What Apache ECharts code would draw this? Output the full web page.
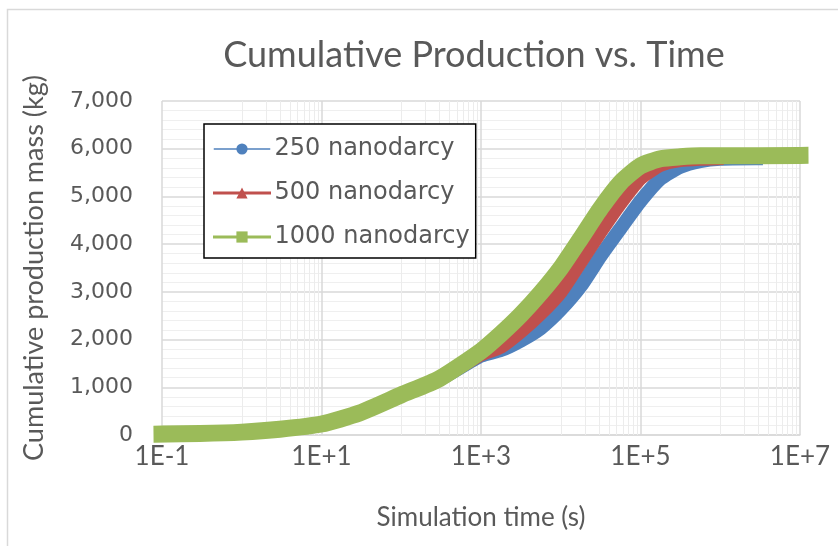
<!DOCTYPE html>
<html><head><meta charset="utf-8">
<script src="https://cdn.jsdelivr.net/npm/echarts@6/dist/echarts.min.js"></script>
<style>html,body{margin:0;padding:0;background:#fff}#c{width:838px;height:546px}</style>
</head><body><div id="c"></div>
<script>
const seriesNames = ['250 nanodarcy', '500 nanodarcy', '1000 nanodarcy'];
const time250 = [0.1, 0.3, 1, 3, 10, 30, 100, 300, 1000, 1780, 3160, 5620, 1e4, 1.78e4, 3.16e4, 5.62e4, 1e5, 1.78e5, 3.16e5, 5.62e5, 1e6, 2.8e6];
const mass250 = [20, 30, 60, 120, 230, 460, 840, 1160, 1660, 1780, 1980, 2240, 2630, 3120, 3750, 4330, 4900, 5370, 5620, 5740, 5790, 5800];
const time500 = [0.1, 0.3, 1, 3, 10, 30, 100, 300, 1000, 1780, 3160, 5620, 1e4, 1.78e4, 3.16e4, 5.62e4, 1e5, 1.78e5, 3.16e5, 5.62e5, 9e5];
const mass500 = [20, 30, 60, 120, 230, 460, 840, 1170, 1690, 1850, 2170, 2550, 3000, 3630, 4260, 4860, 5380, 5660, 5760, 5790, 5800];
const time1000 = [0.1, 0.3, 1, 3, 10, 30, 100, 300, 1000, 1780, 3160, 5620, 1e4, 1.78e4, 3.16e4, 5.62e4, 1e5, 1.78e5, 3.16e5, 5.62e5, 1e6, 1e7];
const mass1000 = [20, 30, 60, 120, 230, 460, 840, 1180, 1760, 2120, 2520, 2980, 3500, 4120, 4750, 5290, 5640, 5790, 5830, 5850, 5850, 5860];
const xTickLabels = ['1E-1', '1E+1', '1E+3', '1E+5', '1E+7'];
const yTickLabels = ['0', '1,000', '2,000', '3,000', '4,000', '5,000', '6,000', '7,000'];

const colors = ['#4F81BD', '#C0504D', '#9BBB59'];
const symbols = ['circle', 'triangle', 'rect'];
const widths = [14, 14, 17];
const legendWidths = [1.5, 3, 3];
const times = [time250, time500, time1000];
const masses = [mass250, mass500, mass1000];

// minor vertical gridlines: 1..9 x 10^k within each 2-decade major interval
const minorX = [];
[0, 2, 4, 6].forEach(function (d) {
  for (let m = 1; m <= 9; m++) minorX.push(m * Math.pow(10, d));
});

const txt = '#595959';
const series = seriesNames.map(function (name, i) {
  return {
    name: name,
    type: 'line',
    data: times[i].map(function (t, j) { return [t, masses[i][j]]; }),
    symbol: symbols[i],
    showSymbol: false,
    smooth: 0.2,
    color: colors[i],
    lineStyle: { width: widths[i], color: colors[i], cap: 'square', join: 'round' },
    itemStyle: { color: colors[i] },
    z: 3 + i,
    silent: true
  };
});
series[0].markLine = {
  silent: true, symbol: 'none', z: 1, animation: false,
  label: { show: false },
  lineStyle: { color: '#ececec', width: 1, type: 'solid' },
  data: minorX.map(function (v) { return { xAxis: v }; })
};

const chart = echarts.init(document.getElementById('c'), null, { renderer: 'canvas' });
chart.setOption({
  animation: false,
  backgroundColor: '#ffffff',
  title: {
    text: 'Cumulative Production vs. Time',
    left: 469, top: 32, textAlign: 'center',
    textStyle: { fontFamily: 'Lato', fontSize: 36, fontWeight: 'normal', color: txt }
  },
  graphic: [{
    type: 'rect', shape: { x: 7.5, y: 9.5, width: 900, height: 600 },
    style: { fill: 'none', stroke: '#d9d9d9', lineWidth: 1.5 }, silent: true, z: -10
  }],
  legend: {
    orient: 'vertical', left: 204, top: 124,
    padding: [13, 6, 9, 9],
    itemWidth: 55, itemHeight: 14, itemGap: 20,
    borderColor: '#000000', borderWidth: 1.5, backgroundColor: '#ffffff',
    selectedMode: false,
    textStyle: { fontFamily: 'DejaVu Sans', fontSize: 24, color: txt },
    data: seriesNames.map(function (n, i) {
      return { name: n, lineStyle: { width: legendWidths[i] } };
    })
  },
  grid: { left: 162, right: 38, top: 101, bottom: 111, containLabel: false },
  xAxis: {
    type: 'log', logBase: 10, min: 0.1, max: 1e7, interval: 2,
    name: 'Simulation time (s)', nameLocation: 'middle', nameGap: 70,
    nameTextStyle: { fontFamily: 'Lato', fontSize: 26, color: txt },
    axisLine: { show: true, lineStyle: { color: '#d9d9d9', width: 1.5 } },
    axisTick: { show: false },
    axisLabel: {
      margin: 9, fontFamily: 'Lato', fontSize: 26, color: txt,
      formatter: function (v) {
        const e = Math.round(Math.log10(v));
        const lbl = '1E' + (e >= 0 ? '+' : '-') + Math.abs(e);
        return xTickLabels.indexOf(lbl) >= 0 ? lbl : '';
      }
    },
    splitLine: { show: true, lineStyle: { color: '#d9d9d9', width: 1.5 } }
  },
  yAxis: {
    type: 'value', min: 0, max: 7000, interval: 1000,
    name: 'Cumulative production mass (kg)', nameLocation: 'middle', nameGap: 114, nameRotate: 90,
    nameTextStyle: { fontFamily: 'Lato', fontSize: 27, color: txt },
    axisLine: { show: false },
    axisTick: { show: false },
    axisLabel: {
      margin: 29, fontFamily: 'DejaVu Sans', fontSize: 22, color: txt,
      formatter: function (v) { return yTickLabels[Math.round(v / 1000)]; }
    },
    splitLine: { show: true, lineStyle: { color: '#d9d9d9', width: 1.5 } },
    minorTick: { show: false, splitNumber: 5 },
    minorSplitLine: { show: true, lineStyle: { color: '#efefef', width: 1 } }
  },
  series: series
});
</script>
</body></html>
